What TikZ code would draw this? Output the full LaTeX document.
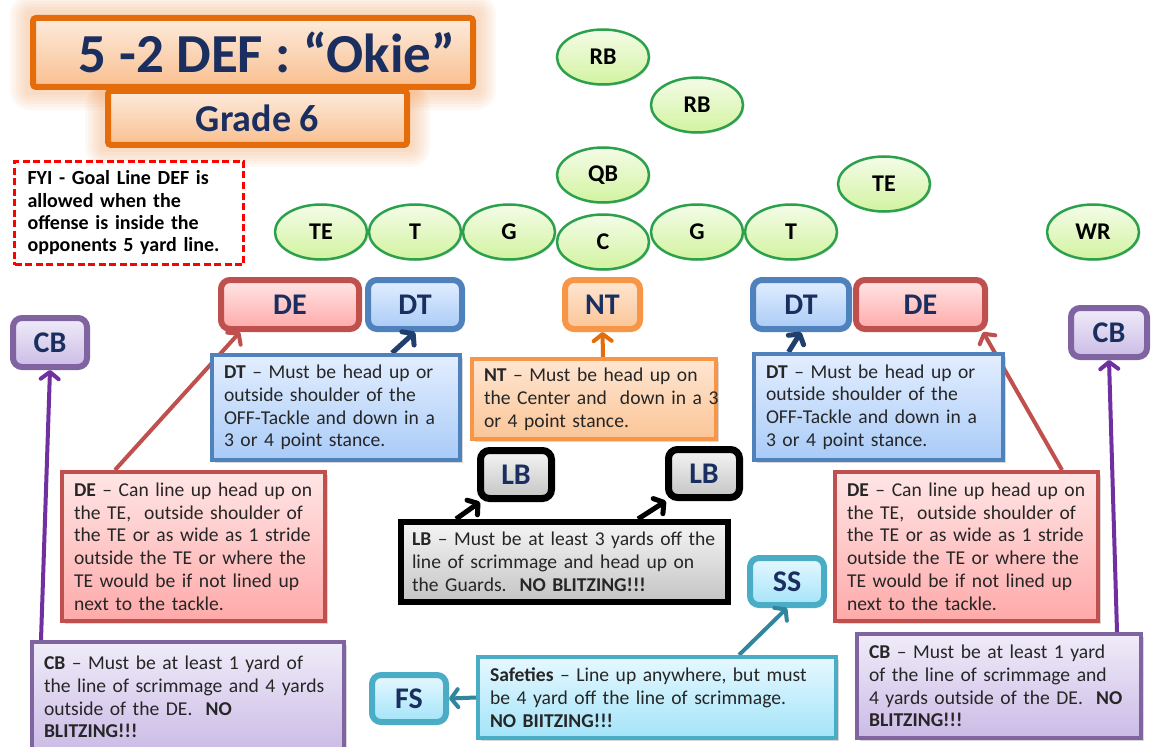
\documentclass[tikz,border=0pt]{standalone}
\usepackage{fontspec}
\setmainfont{Carlito}
\usetikzlibrary{shapes.geometric,arrows.meta,shadows,calc}
\definecolor{navy}{HTML}{1A2F5F}
\definecolor{bodytext}{HTML}{262626}
\definecolor{titleborder}{HTML}{E46C0A}
\definecolor{titletop}{HTML}{FDEBDD}
\definecolor{titlebot}{HTML}{F9BF8F}
\definecolor{glowc}{HTML}{F79646}
\definecolor{offgreen}{HTML}{2BA14B}
\definecolor{offtop}{HTML}{F4FCE8}
\definecolor{offbot}{HTML}{D2F3A0}
\definecolor{deborder}{HTML}{C0504D}
\definecolor{detop}{HTML}{FFE6E6}
\definecolor{debot}{HTML}{FFA9A9}
\definecolor{dtborder}{HTML}{4F81BD}
\definecolor{dttop}{HTML}{E3EEFF}
\definecolor{dtbot}{HTML}{A9CBF7}
\definecolor{ntborder}{HTML}{F79646}
\definecolor{nttop}{HTML}{FEE6D2}
\definecolor{ntbot}{HTML}{FBC597}
\definecolor{cbborder}{HTML}{8064A2}
\definecolor{cbtop}{HTML}{F0ECF9}
\definecolor{cbbot}{HTML}{CBBBE6}
\definecolor{lbtop}{HTML}{F5F5F5}
\definecolor{lbbot}{HTML}{C4C4C4}
\definecolor{sfborder}{HTML}{4BACC6}
\definecolor{sftop}{HTML}{E6F8FF}
\definecolor{sfbot}{HTML}{A3E4F9}
\definecolor{dtarrow}{HTML}{1F3F6E}
\definecolor{ntarrow}{HTML}{E46C0A}
\definecolor{cbarrow}{HTML}{7030A0}
\definecolor{sfarrow}{HTML}{31859C}
\definecolor{fyired}{HTML}{FF0000}
\pgfdeclarelayer{bgw}
\pgfdeclarelayer{labs}
\pgfdeclarelayer{arrs}
\pgfsetlayers{bgw,labs,arrs,main}
\newcommand{\oneline}[1]{\mbox{#1}}
\begin{document}
\begin{tikzpicture}[x=1pt,y=-1pt,
  plyr/.style={ellipse, draw=offgreen, line width=2.5pt, top color=offtop, bottom color=offbot,
    minimum width=92pt, minimum height=55pt, inner sep=0pt,
    font=\fontsize{24}{24}\selectfont\bfseries, text=black,
    drop shadow={opacity=0.2, shadow xshift=1.5pt, shadow yshift=-1.5pt}},
  labbox/.style={rectangle, rounded corners=9pt, line width=6pt, minimum height=49pt, inner sep=0pt,
    font=\fontsize{30}{30}\selectfont\bfseries, text=navy,
    drop shadow={opacity=0.3, shadow xshift=2pt, shadow yshift=-2pt}},
  delab/.style={labbox, draw=deborder, top color=detop, bottom color=debot},
  dtlab/.style={labbox, draw=dtborder, top color=dttop, bottom color=dtbot},
  ntlab/.style={labbox, draw=ntborder, top color=nttop, bottom color=ntbot},
  cblab/.style={labbox, draw=cbborder, top color=cbtop, bottom color=cbbot},
  lblab/.style={labbox, draw=black, line width=7pt, top color=lbtop, bottom color=lbbot},
  sflab/.style={labbox, draw=sfborder, top color=sftop, bottom color=sfbot},
  notebox/.style={rectangle, line width=4pt, inner xsep=12pt, inner ysep=3pt, align=left,
    font=\fontsize{19.6}{22.8}\selectfont, text=bodytext,
    drop shadow={opacity=0.3, shadow xshift=2.5pt, shadow yshift=-2.5pt}},
  denote/.style={notebox, draw=deborder, top color=detop, bottom color=debot},
  dtnote/.style={notebox, draw=dtborder, top color=dttop, bottom color=dtbot},
  ntnote/.style={notebox, draw=ntborder, top color=nttop, bottom color=ntbot},
  cbnote/.style={notebox, draw=cbborder, top color=cbtop, bottom color=cbbot},
  lbnote/.style={notebox, draw=black, line width=6pt, inner xsep=11pt, top color=lbtop, bottom color=lbbot},
  sfnote/.style={notebox, draw=sfborder, top color=sftop, bottom color=sfbot},
  titlebox/.style={rectangle, rounded corners=3pt, draw=titleborder, line width=6pt,
    top color=titletop, bottom color=titlebot, inner sep=0pt, text=navy},
  fyibox/.style={rectangle, draw=fyired, line width=2.5pt, dash pattern=on 7pt off 3.5pt,
    fill=white, inner xsep=13pt, align=left, font=\fontsize{20}{22.3}\selectfont\bfseries, text=black},
  arrline/.style={line width=4pt, -{Straight Barb[length=7pt,width=18pt,round]}},
  glowfill/.style={fill=glowc, opacity=0.06}
]
\useasboundingbox (0,0) rectangle (1155,746);
\begin{pgfonlayer}{bgw}
\fill[white] (0,0) rectangle (1155,746);
\end{pgfonlayer}
\clip (0,0) rectangle (1155,746);

% glow round the title
\foreach \g in {20,17,14,11,8,5}{
  \fill[glowfill, rounded corners=\g pt] (30-\g,15-\g) rectangle (476+\g,90+\g);
  \fill[glowfill, rounded corners=\g pt] (105-\g,85) rectangle (410+\g,147+\g);
}

% title
\node[titlebox, minimum width=299pt, minimum height=54pt,
  font=\fontsize{38}{38}\selectfont\bfseries] (grade) at (257.5,118) {Grade 6};
\node[titlebox, minimum width=440pt, minimum height=69pt,
  font=\fontsize{55}{55}\selectfont\bfseries] (title) at (253,52.5) {\hspace{28pt}5 -2 DEF : “Okie”};

% FYI
\node[fyibox, minimum width=229pt, minimum height=103pt, text width=203pt] (fyi) at (129,213)
  {\oneline{FYI - Goal Line DEF is}\\\oneline{allowed when the}\\\oneline{offense is inside the}\\\oneline{opponents 5 yard line.}};

% offense
\node[plyr] (rb1) at (603,57) {RB};
\node[plyr] (rb2) at (697,105) {RB};
\node[plyr] (qb) at (603,175) {QB};
\node[plyr] (teR) at (884,184) {TE};
\node[plyr] (wr) at (1093,232) {WR};
\node[plyr] (teL) at (321,232) {TE};
\node[plyr] (tL) at (415,232) {T};
\node[plyr] (gL) at (509,232) {G};
\node[plyr] (gR) at (697,232) {G};
\node[plyr] (tR) at (791,232) {T};
\node[plyr] (cen) at (603,242) {C};

% defense labels
\begin{pgfonlayer}{labs}
\node[delab, minimum width=138pt] (deL) at (290,304.5) {DE};
\node[dtlab, minimum width=94pt] (dtL) at (415,304.5) {DT};
\node[ntlab, minimum width=75pt] (ntB) at (602.5,304.5) {NT};
\node[dtlab, minimum width=96pt] (dtR) at (801,304.5) {DT};
\node[delab, minimum width=129pt] (deR) at (920.5,304.5) {DE};
\node[cblab, minimum width=74pt] (cbL) at (50,342.5) {CB};
\node[cblab, minimum width=76pt] (cbR) at (1109,332.5) {CB};
\node[lblab, minimum width=71pt, minimum height=48pt] (lbL) at (516,474.5) {LB};
\node[lblab, minimum width=71pt, minimum height=48pt] (lbR) at (704,473.5) {LB};
\node[sflab, minimum width=74pt, minimum height=47pt] (ssB) at (787,581.5) {SS};
\node[sflab, minimum width=74pt, minimum height=47pt] (fsB) at (409,698.5) {FS};
\end{pgfonlayer}

% notes
\node[dtnote, minimum width=248pt, minimum height=105pt, text width=224pt] (dttxtL) at (336,407.5)
  {\oneline{\textbf{DT} – Must be head up or}\\\oneline{outside shoulder of the}\\\oneline{OFF-Tackle and down in a}\\\oneline{3 or 4 point stance.}};
\node[ntnote, minimum width=244pt, minimum height=80pt, text width=220pt] (ntxt) at (594,399)
  {\oneline{\textbf{NT} – Must be head up on}\\\oneline{the Center and\ \ down in a 3}\\\oneline{or 4 point stance.}};
\node[dtnote, minimum width=249pt, minimum height=106pt, text width=225pt] (dttxtR) at (878.5,407)
  {\oneline{\textbf{DT} – Must be head up or}\\\oneline{outside shoulder of the}\\\oneline{OFF-Tackle and down in a}\\\oneline{3 or 4 point stance.}};
\node[denote, minimum width=263pt, minimum height=149pt, text width=239pt] (detxtL) at (193.5,546.5)
  {\oneline{\textbf{DE} – Can line up head up on}\\\oneline{the TE,\ \ outside shoulder of}\\\oneline{the TE or as wide as 1 stride}\\\oneline{outside the TE or where the}\\\oneline{TE would be if not lined up}\\\oneline{next to the tackle.}};
\node[denote, minimum width=263pt, minimum height=149pt, text width=239pt] (detxtR) at (966.5,546.5)
  {\oneline{\textbf{DE} – Can line up head up on}\\\oneline{the TE,\ \ outside shoulder of}\\\oneline{the TE or as wide as 1 stride}\\\oneline{outside the TE or where the}\\\oneline{TE would be if not lined up}\\\oneline{next to the tackle.}};
\node[lbnote, minimum width=327pt, minimum height=80pt, text width=305pt] (lbtxt) at (564.5,562)
  {\oneline{\textbf{LB} – Must be at least 3 yards off the}\\\oneline{line of scrimmage and head up on}\\\oneline{the Guards.\ \ \textbf{NO BLITZING!!!}}};
\node[cbnote, minimum width=312pt, minimum height=110pt, text width=288pt] (cbtxtL) at (188,697)
  {\oneline{\textbf{CB} – Must be at least 1 yard of}\\\oneline{the line of scrimmage and 4 yards}\\\oneline{outside of the DE.\ \ \textbf{NO}}\\\oneline{\textbf{BLITZING!!!}}};
\node[cbnote, minimum width=284pt, minimum height=104pt, text width=260pt] (cbtxtR) at (999,686)
  {\oneline{\textbf{CB} – Must be at least 1 yard}\\\oneline{of the line of scrimmage and}\\\oneline{4 yards outside of the DE.\ \ \textbf{NO}}\\\oneline{\textbf{BLITZING!!!}}};
\node[sfnote, minimum width=358pt, minimum height=81pt, text width=334pt] (sftxt) at (657,697.5)
  {\oneline{\textbf{Safeties} – Line up anywhere, but must}\\\oneline{be 4 yard off the line of scrimmage.}\\\oneline{\textbf{NO BIITZING!!!}}};

% arrows
\begin{pgfonlayer}{arrs}
\draw[arrline, deborder] ([xshift=55pt]detxtL.north west) -- ([xshift=22pt]deL.south west);
\draw[arrline, dtarrow, line width=5pt] ([xshift=56pt]dttxtL.north) -- (dtL.south);
\draw[arrline, ntarrow] ([xshift=9pt]ntxt.north) -- (ntB.south);
\draw[arrline, dtarrow, line width=5pt] ([xshift=-90pt]dttxtR.north) -- (dtR.south);
\draw[arrline, deborder] ([xshift=-38pt]detxtR.north east) -- ([xshift=-5pt]deR.south east);
\draw[arrline, cbarrow] ([xshift=11pt]cbtxtL.north west) -- (cbL.south);
\draw[arrline, cbarrow] ([xshift=-26pt]cbtxtR.north east) -- (cbR.south);
\draw[arrline, black, line width=5pt] ([xshift=58pt]lbtxt.north west) -- ([xshift=3pt]lbL.south west);
\draw[arrline, black, line width=5pt] ([xshift=240pt]lbtxt.north west) -- ([xshift=1pt]lbR.south west);
\draw[arrline, sfarrow] ([xshift=-99pt]sftxt.north east) -- (ssB.south);
\draw[arrline, sfarrow] (sftxt.west) -- (fsB.east);
\end{pgfonlayer}
\end{tikzpicture}
\end{document}
